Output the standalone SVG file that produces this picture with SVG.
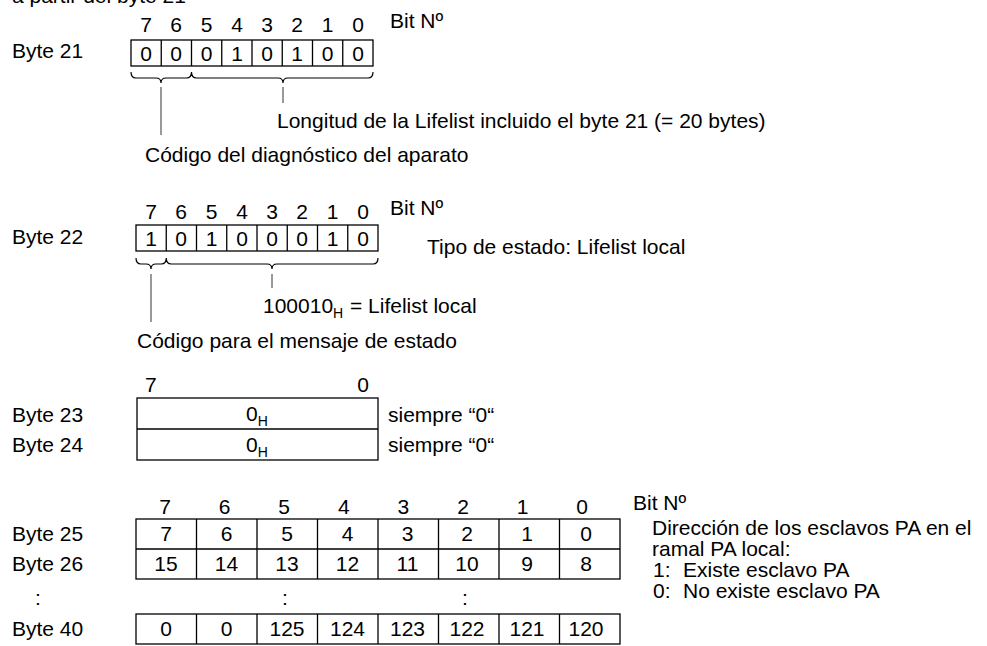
<svg xmlns="http://www.w3.org/2000/svg" width="987" height="646" viewBox="0 0 987 646">
<style>
text{font-family:"Liberation Sans",Arial,sans-serif;font-size:21px;fill:#000}
.c{text-anchor:middle}
.e{text-anchor:end}
.sub{font-size:14px}
.box{fill:none;stroke:#000;stroke-width:1.3}
.lead{stroke:#333;stroke-width:1;fill:none}
.brace{fill:none;stroke:#000;stroke-width:1.2}
</style>
<rect width="987" height="646" fill="#fff"/>
<text x="12" y="3">a partir del byte 21</text>

<g id="byte21">
<text x="12" y="58">Byte 21</text>
<g class="c">
<text x="146" y="32">7</text><text x="176" y="32">6</text><text x="206.5" y="32">5</text><text x="237" y="32">4</text><text x="267" y="32">3</text><text x="297" y="32">2</text><text x="327.5" y="32">1</text><text x="358" y="32">0</text>
</g>
<text x="390" y="28">Bit Nº</text>
<rect class="box" x="131" y="40" width="242" height="26"/>
<path class="box" d="M161.25 40V66M191.5 40V66M221.75 40V66M252 40V66M282.25 40V66M312.5 40V66M342.75 40V66"/>
<g class="c">
<text x="146" y="60.5">0</text><text x="176" y="60.5">0</text><text x="206.5" y="60.5">0</text><text x="237" y="60.5">1</text><text x="267" y="60.5">0</text><text x="297" y="60.5">1</text><text x="327.5" y="60.5">0</text><text x="358" y="60.5">0</text>
</g>
<path class="brace" d="M131 72Q131 78 136 78L156 78Q161 78 161 83Q161 78 166 78L186.5 78Q191.5 78 191.5 72Q191.5 78 196.5 78L278 78Q283 78 283 83Q283 78 288 78L368 78Q373 78 373 72"/>
<text x="277" y="128">Longitud de la Lifelist incluido el byte 21 (= 20 bytes)</text>
<text x="145" y="162">Código del diagnóstico del aparato</text>
</g>

<g id="byte22">
<text x="12" y="244">Byte 22</text>
<g class="c">
<text x="151" y="219">7</text><text x="181" y="219">6</text><text x="211.5" y="219">5</text><text x="242" y="219">4</text><text x="272" y="219">3</text><text x="302" y="219">2</text><text x="332.5" y="219">1</text><text x="363" y="219">0</text>
</g>
<text x="390" y="215">Bit Nº</text>
<rect class="box" x="136" y="225" width="242" height="26"/>
<path class="box" d="M166.25 225V251M196.5 225V251M226.75 225V251M257 225V251M287.25 225V251M317.5 225V251M347.75 225V251"/>
<g class="c">
<text x="151" y="245.5">1</text><text x="181" y="245.5">0</text><text x="211.5" y="245.5">1</text><text x="242" y="245.5">0</text><text x="272" y="245.5">0</text><text x="302" y="245.5">0</text><text x="332.5" y="245.5">1</text><text x="363" y="245.5">0</text>
</g>
<text x="427" y="254">Tipo de estado: Lifelist local</text>
<path class="brace" d="M136 258Q136 264 141 264L146 264Q151 264 151 269Q151 264 156 264L161.25 264Q166.25 264 166.25 258Q166.25 264 171.25 264L267 264Q272 264 272 269Q272 264 277 264L373 264Q378 264 378 258"/>
<text x="263" y="313">100010<tspan class="sub" dy="5">H</tspan></text>
<text x="350" y="313">= Lifelist local</text>
<text x="137" y="348">Código para el mensaje de estado</text>
</g>

<g id="byte23-24">
<text x="145" y="392">7</text>
<text class="e" x="369" y="392">0</text>
<rect class="box" x="137" y="398" width="241" height="62"/>
<path class="box" d="M137 429H378"/>
<text x="12" y="422">Byte 23</text>
<text x="12" y="452">Byte 24</text>
<text x="246" y="421">0<tspan class="sub" dy="5">H</tspan></text>
<text x="246" y="452">0<tspan class="sub" dy="5">H</tspan></text>
<text x="388" y="422">siempre “0“</text>
<text x="388" y="452">siempre “0“</text>
</g>

<g id="byte25-40">
<g class="c">
<text x="165" y="514">7</text><text x="224.6" y="514">6</text><text x="284.2" y="514">5</text><text x="343.8" y="514">4</text><text x="403.4" y="514">3</text><text x="463" y="514">2</text><text x="522.6" y="514">1</text><text x="582.2" y="514">0</text>
</g>
<text x="633" y="510">Bit Nº</text>
<text x="12" y="541">Byte 25</text>
<text x="12" y="571">Byte 26</text>
<text x="12" y="636">Byte 40</text>
<rect class="box" x="136" y="519" width="484" height="60"/>
<path class="box" d="M136 549H620M196.5 519V579M257 519V579M317.5 519V579M378 519V579M438.5 519V579M499 519V579M559.5 519V579"/>
<rect class="box" x="136" y="614" width="484" height="30"/>
<path class="box" d="M196.5 614V644M257 614V644M317.5 614V644M378 614V644M438.5 614V644M499 614V644M559.5 614V644"/>
<g class="c">
<text x="166" y="541">7</text><text x="226.5" y="541">6</text><text x="287" y="541">5</text><text x="347.5" y="541">4</text><text x="407.5" y="541">3</text><text x="467" y="541">2</text><text x="527" y="541">1</text><text x="586" y="541">0</text>
<text x="166" y="571">15</text><text x="226.5" y="571">14</text><text x="287" y="571">13</text><text x="347.5" y="571">12</text><text x="407.5" y="571">11</text><text x="467" y="571">10</text><text x="527" y="571">9</text><text x="586" y="571">8</text>
<text x="38" y="605">:</text><text x="285" y="605">:</text><text x="465" y="605">:</text>
<text x="166" y="636">0</text><text x="226.5" y="636">0</text><text x="287" y="636">125</text><text x="347.5" y="636">124</text><text x="407.5" y="636">123</text><text x="467" y="636">122</text><text x="527" y="636">121</text><text x="586" y="636">120</text>
</g>
<text x="652" y="535">Dirección de los esclavos PA en el</text>
<text x="652" y="556">ramal PA local:</text>
<text x="653" y="577">1:</text><text x="683" y="577">Existe esclavo PA</text>
<text x="653" y="598">0:</text><text x="683" y="598">No existe esclavo PA</text>
</g>

<g id="connectors">
<path class="lead" d="M161 87V135M283 87V103"/>
<path class="lead" d="M151 274V322M272 274V288"/>
</g>
</svg>
